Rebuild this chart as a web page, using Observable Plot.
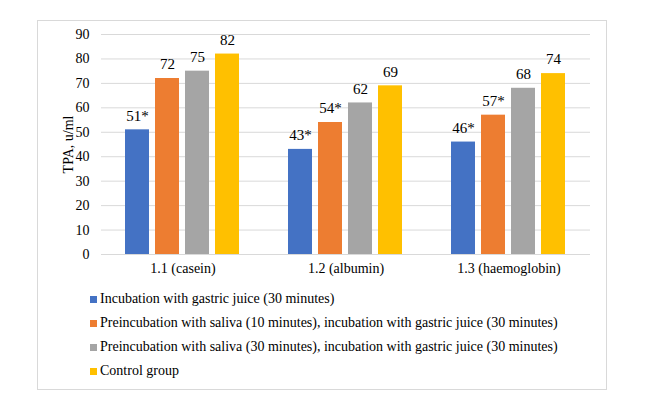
<!DOCTYPE html>
<html>
<head>
<meta charset="utf-8">
<script src="https://cdn.jsdelivr.net/npm/d3@7"></script>
<script src="https://cdn.jsdelivr.net/npm/@observablehq/plot@0.6"></script>
<style>
  html, body { margin: 0; padding: 0; background: #fff; }
  #wrap { position: relative; width: 664px; height: 410px; font-family: "Liberation Serif", serif; }
  #frame { position: absolute; left: 37px; top: 20px; width: 570px; height: 370px; border: 1px solid #d9d9d9; box-sizing: border-box; }
  #chart { position: absolute; left: 0; top: 0; }
  #legend { position: absolute; left: 90px; top: 287px; font-size: 14px; color: #000; }
  .item { height: 24px; display: flex; align-items: center; }
  .sw { width: 7px; height: 7px; margin-right: 3px; }
  svg text { font-family: "Liberation Serif", serif; }
</style>
</head>
<body>
<div id="wrap">
  <div id="frame"></div>
  <div id="chart"></div>
  <div id="legend"></div>
</div>
<script>
const groups = ["1.1 (casein)", "1.2 (albumin)", "1.3 (haemoglobin)"];
const series = [
  "Incubation with gastric juice (30 minutes)",
  "Preincubation with saliva (10 minutes), incubation with gastric juice (30 minutes)",
  "Preincubation with saliva (30 minutes), incubation with gastric juice (30 minutes)",
  "Control group"
];
const colors = ["#4472c4", "#ed7d31", "#a5a5a5", "#ffc000"];
const values1 = [51, 43, 46];
const values2 = [72, 54, 57];
const values3 = [75, 62, 68];
const values4 = [82, 69, 74];
const labels1 = ["51*", "43*", "46*"];
const labels2 = ["72", "54*", "57*"];
const labels3 = ["75", "62", "68"];
const labels4 = ["82", "69", "74"];
const yTicks = [0, 10, 20, 30, 40, 50, 60, 70, 80, 90];

const allValues = [values1, values2, values3, values4];
const allLabels = [labels1, labels2, labels3, labels4];
const data = [];
groups.forEach((g, gi) => {
  series.forEach((s, si) => {
    data.push({group: g, series: s, value: allValues[si][gi], label: allLabels[si][gi]});
  });
});

const chart = Plot.plot({
  width: 664,
  height: 280,
  marginTop: 34,
  marginBottom: 26,
  marginLeft: 100,
  marginRight: 74,
  style: {fontFamily: "'Liberation Serif', serif", fontSize: "14px", color: "#000", background: "transparent"},
  fx: {domain: groups, paddingInner: 0, paddingOuter: 0, label: null},
  x: {domain: series, paddingInner: 0.19, paddingOuter: 0.75, axis: null},
  y: {domain: [0, 90], ticks: yTicks, label: "TPA, u/ml"},
  color: {domain: series, range: colors},
  marks: [
    Plot.gridY(yTicks, {stroke: "#d9d9d9", strokeOpacity: 1, strokeWidth: 1}),
    Plot.barY(data, {fx: "group", x: "series", y: "value", fill: "series"}),
    Plot.text(data, {fx: "group", x: "series", y: "value", text: "label", dy: -14, fontSize: 15, fill: "#000"}),
    Plot.axisY(yTicks, {tickSize: 0, tickPadding: 12, fontSize: 14, label: "TPA, u/ml", labelAnchor: "center", labelArrow: "none", labelOffset: 38}),
    Plot.axisFx({anchor: "bottom", tickSize: 0, tickPadding: 9, fontSize: 14, label: null})
  ]
});
document.getElementById("chart").appendChild(chart);

const legend = document.getElementById("legend");
series.forEach((s, i) => {
  const item = document.createElement("div");
  item.className = "item";
  const sw = document.createElement("span");
  sw.className = "sw";
  sw.style.background = colors[i];
  const t = document.createElement("span");
  t.textContent = s;
  item.appendChild(sw);
  item.appendChild(t);
  legend.appendChild(item);
});
</script>
</body>
</html>
